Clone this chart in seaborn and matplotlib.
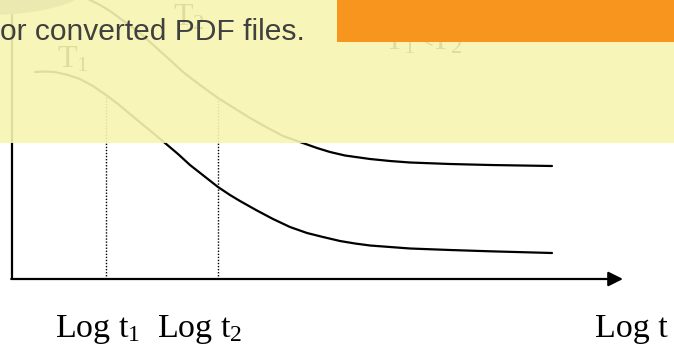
import numpy as np
import pandas as pd
import matplotlib
matplotlib.use("Agg")
import matplotlib.pyplot as plt
import seaborn as sns
from matplotlib.patches import Rectangle, Ellipse

# Schematic: property vs log time at two temperatures (T1 < T2)
log_t_T1 = [23, 33, 43, 56, 68, 81, 94, 106, 118, 130, 141, 153, 166, 178, 192, 206,
            218, 228, 244, 261, 278, 295, 311, 328, 343, 358, 378, 398, 438, 478, 540]
value_T1 = [207, 207.5, 207, 204, 200, 193, 184, 175, 165, 155, 146, 136, 125, 114, 103, 92,
            84, 78, 69, 60, 52, 46, 42, 38, 35.5, 33.5, 32, 30.5, 29, 27.7, 26]
log_t_T2 = [58, 68, 78, 88, 98, 113, 128, 138, 148, 158, 171, 188, 206, 222, 238, 254,
            271, 288, 305, 318, 333, 358, 378, 398, 438, 478, 540]
value_T2 = [287, 283, 279, 274, 268, 257, 246, 237, 228, 219, 207, 194, 181, 171, 161, 152,
            143, 137, 131, 127, 123.5, 120, 118, 116.5, 115, 114, 113]

# reference times: Log t1 read on the T1 curve, Log t2 on the T2 curve
mark_times = [94, 206]
mark_values = [value_T1[log_t_T1.index(94)], value_T2[log_t_T2.index(206)]]

tick_labels = [r"Log t$_\mathrm{1}$", r"Log t$_\mathrm{2}$", "Log t"]
tick_x = [43, 145, 583]

curve_labels = [r"T$_\mathrm{1}$", r"T$_\mathrm{2}$", r"T$_\mathrm{1}$<T$_\mathrm{2}$"]
curve_label_xy = [(45, 211), (161, 253), (372, 229)]

banner_text = "or converted PDF files."

sns.set_style("white")
plt.rcParams["font.family"] = ["Liberation Serif", "DejaVu Serif"]
plt.rcParams["mathtext.fontset"] = "custom"
plt.rcParams["mathtext.rm"] = "Liberation Serif"
plt.rcParams["mathtext.it"] = "Liberation Serif:italic"

W, H = 674, 350
fig = plt.figure(figsize=(W / 100, H / 100), dpi=100)
ax = fig.add_axes([0, 0, 1, 1])
ax.set_xlim(-12, W - 12)
ax.set_ylim(-(H - 279), 279)
ax.set_axis_off()

df = pd.concat([
    pd.DataFrame({"log_t": log_t_T1, "value": value_T1, "curve": "T1"}),
    pd.DataFrame({"log_t": log_t_T2, "value": value_T2, "curve": "T2"}),
])
sns.lineplot(data=df, x="log_t", y="value", units="curve", estimator=None,
             sort=False, color="black", lw=1.6, ax=ax, legend=False, zorder=3)
for ln in ax.lines:
    ln.set_solid_joinstyle("round")

# reference-time guides
ax.vlines(mark_times, 0, mark_values, colors="black", lw=1.0,
          linestyles=(0, (1, 1.2)), zorder=2)

# axes drawn as a plain line and an arrow
ax.plot([0, 0], [0, 320], color="black", lw=1.6, solid_capstyle="butt", zorder=3)
ax.annotate("", xy=(611, 0), xytext=(-0.8, 0),
            arrowprops=dict(arrowstyle="-|>", color="black", lw=1.6,
                            mutation_scale=22, shrinkA=0, shrinkB=0), zorder=3)

for lab, x in zip(tick_labels, tick_x):
    ax.text(x, -58, lab, fontsize=24.5, ha="left", va="baseline", color="black")

for lab, (x, y) in zip(curve_labels, curve_label_xy):
    ax.text(x, y, lab, fontsize=23, ha="left", va="baseline", color="black", zorder=3)

# decorative shape in the top corner
ax.add_patch(Ellipse((-22, 304), 220, 80, facecolor="#8a86b0", edgecolor="none", zorder=4))

# translucent banner over the upper part
ov_alpha = 0.9
ov_rgb = np.array([248, 246, 185]) - (1 - ov_alpha) * 255
ov_rgb = ov_rgb / ov_alpha / 255
ax.add_patch(Rectangle((0, 1 - 143 / H), 1, 143 / H, transform=ax.transAxes,
                       facecolor=ov_rgb, alpha=ov_alpha, edgecolor="none", zorder=5))
ax.add_patch(Rectangle((337 / W, 1 - 42 / H), 1 - 337 / W, 42 / H, transform=ax.transAxes,
                       facecolor="#f7951e", edgecolor="none", zorder=6))
ax.text(0.0, 1 - 40 / H, banner_text, transform=ax.transAxes, fontsize=21.6,
        family=["Liberation Sans", "DejaVu Sans"], color="#404040",
        ha="left", va="baseline", zorder=7)

fig.savefig("out.png", dpi=100, facecolor="white")
